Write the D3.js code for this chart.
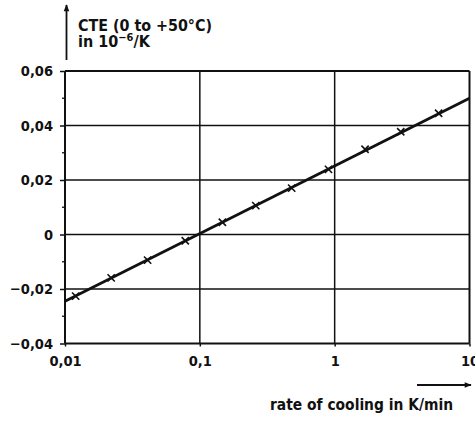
<!DOCTYPE html>
<html>
<head>
<meta charset="utf-8">
<script src="https://cdn.jsdelivr.net/npm/d3@7"></script>
<style>
  body { margin: 0; background: #fff; }
  text { font-family: "DejaVu Sans Condensed", "DejaVu Sans", sans-serif; font-weight: bold; fill: #111; }
</style>
</head>
<body>
<div id="chart"></div>
<script>
// values
const xTicks = [0.01, 0.1, 1, 10];
const xTickLabels = ["0,01", "0,1", "1", "10"];
const yTicks = [-0.04, -0.02, 0, 0.02, 0.04, 0.06];
const yTickLabels = ["\u22120,04", "\u22120,02", "0", "0,02", "0,04", "0,06"];
const yMinor = [-0.03, -0.01, 0.01, 0.03, 0.05];

// measured points (rate K/min, CTE)
const rate = [0.012, 0.022, 0.041, 0.078, 0.147, 0.26, 0.48, 0.9, 1.68, 3.09, 5.9];
const cte = [-0.0226, -0.0159, -0.0094, -0.0023, 0.0045, 0.0106, 0.017, 0.0239, 0.0313, 0.0377, 0.0445];

// fitted line ends
const fitRate = [0.01, 10];
const fitCte = [-0.0245, 0.050];

const width = 475, height = 421;
const plotLeft = 65, plotRight = 469.5, plotTop = 71, plotBottom = 343.5;

const svg = d3.select("#chart")
  .append("svg")
    .attr("width", width)
    .attr("height", height);

const x = d3.scaleLog().domain([0.01, 10]).range([plotLeft, plotRight]);
const y = d3.scaleLinear().domain([-0.04, 0.06]).range([plotBottom, plotTop]);

// grid
svg.append("g")
  .selectAll("line")
  .data(yTicks)
  .join("line")
    .attr("x1", plotLeft).attr("x2", plotRight)
    .attr("y1", d => y(d)).attr("y2", d => y(d))
    .attr("stroke", "#111")
    .attr("stroke-width", d => (d === -0.04 || d === 0.06) ? 2 : 1.5);

svg.append("g")
  .selectAll("line")
  .data(xTicks)
  .join("line")
    .attr("x1", d => x(d)).attr("x2", d => x(d))
    .attr("y1", plotTop).attr("y2", plotBottom)
    .attr("stroke", "#111")
    .attr("stroke-width", d => (d === 0.01 || d === 10) ? 2 : 1.5);

// y axis ticks + labels
const yAxis = d3.axisLeft(y)
  .tickValues(yTicks)
  .tickFormat((d, i) => yTickLabels[i])
  .tickSize(5)
  .tickPadding(7);

const yg = svg.append("g")
  .attr("transform", `translate(${plotLeft},0)`)
  .call(yAxis);
yg.select(".domain").remove();
yg.selectAll("line").attr("stroke", "#111").attr("stroke-width", 1.5);
yg.selectAll("text")
  .attr("font-family", null)
  .style("font-size", "14.5px")
  .attr("fill", "#111");

// minor y ticks
svg.append("g")
  .selectAll("line")
  .data(yMinor)
  .join("line")
    .attr("x1", plotLeft - 3).attr("x2", plotLeft)
    .attr("y1", d => y(d)).attr("y2", d => y(d))
    .attr("stroke", "#111")
    .attr("stroke-width", 1.3);

// x axis ticks + labels
const xAxis = d3.axisBottom(x)
  .tickValues(xTicks)
  .tickFormat((d, i) => xTickLabels[i])
  .tickSize(3)
  .tickPadding(9);

const xg = svg.append("g")
  .attr("transform", `translate(0,${plotBottom})`)
  .call(xAxis);
xg.select(".domain").remove();
xg.selectAll("line").attr("stroke", "#111").attr("stroke-width", 1.5);
xg.selectAll("text")
  .attr("font-family", null)
  .style("font-size", "14.5px")
  .attr("fill", "#111");

// fitted line
const fitData = fitRate.map((r, i) => ({ r: r, v: fitCte[i] }));
svg.append("path")
  .datum(fitData)
  .attr("d", d3.line().x(d => x(d.r)).y(d => y(d.v)))
  .attr("fill", "none")
  .attr("stroke", "#111")
  .attr("stroke-width", 2.8);

// x markers
const pts = rate.map((r, i) => ({ r: r, v: cte[i] }));
svg.append("g")
  .selectAll("path")
  .data(pts)
  .join("path")
    .attr("transform", d => `translate(${x(d.r)},${y(d.v)})`)
    .attr("d", d3.symbol(d3.symbolTimes, 36))
    .attr("fill", "none")
    .attr("stroke", "#111")
    .attr("stroke-width", 1.6);

// arrows
svg.append("defs").append("marker")
  .attr("id", "arrow")
  .attr("viewBox", "0 0 10 10")
  .attr("refX", 9).attr("refY", 5)
  .attr("markerWidth", 11).attr("markerHeight", 7)
  .attr("markerUnits", "userSpaceOnUse")
  .attr("orient", "auto")
  .append("path")
    .attr("d", "M0,1 L10,5 L0,9 Z")
    .attr("fill", "#111");

svg.append("line")
  .attr("x1", 66.5).attr("x2", 66.5)
  .attr("y1", 60).attr("y2", 5)
  .attr("stroke", "#111").attr("stroke-width", 1.8)
  .attr("marker-end", "url(#arrow)");

svg.append("line")
  .attr("x1", 417).attr("x2", 471)
  .attr("y1", 385).attr("y2", 385)
  .attr("stroke", "#111").attr("stroke-width", 1.8)
  .attr("marker-end", "url(#arrow)");

// titles
svg.append("text")
  .attr("x", 78).attr("y", 30.5)
  .style("font-size", "16px")
  .attr("textLength", 134)
  .attr("lengthAdjust", "spacingAndGlyphs")
  .text("CTE (0 to +50°C)");

const t2 = svg.append("text")
  .attr("x", 78).attr("y", 47)
  .style("font-size", "16px");
t2.append("tspan").text("in  10");
t2.append("tspan").attr("dy", -6).style("font-size", "11px").text("\u22126");
t2.append("tspan").attr("dy", 6).text("/K");

svg.append("text")
  .attr("x", 270).attr("y", 410)
  .style("font-size", "16px")
  .attr("textLength", 183)
  .attr("lengthAdjust", "spacingAndGlyphs")
  .text("rate of cooling in K/min");
</script>
</body>
</html>
